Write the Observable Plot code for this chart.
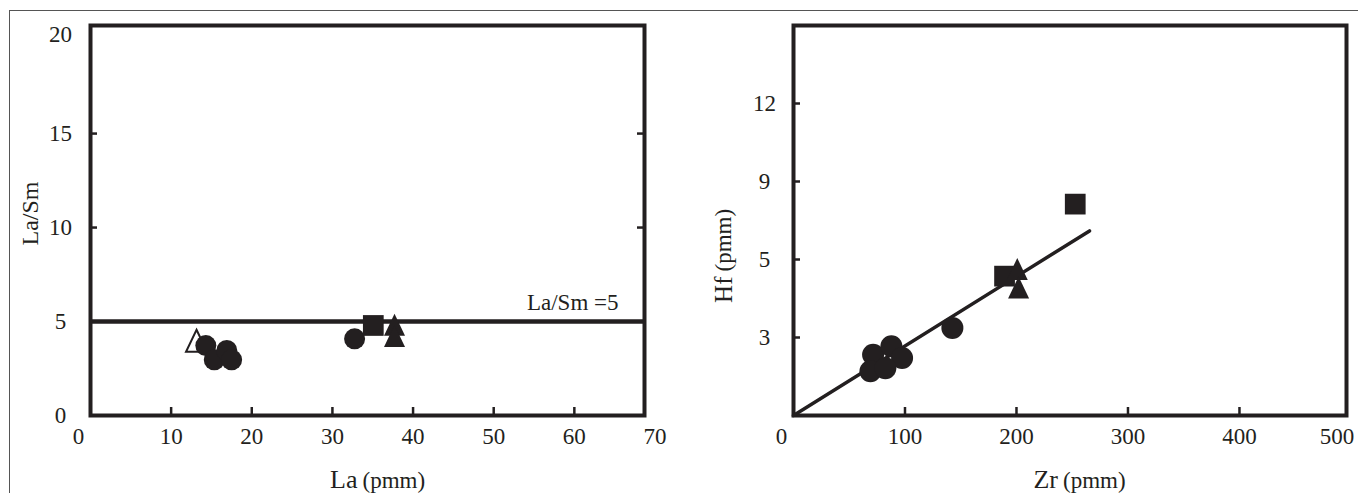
<!DOCTYPE html>
<html>
<head>
<meta charset="utf-8">
<script src="https://cdn.jsdelivr.net/npm/d3@7"></script>
<script src="https://cdn.jsdelivr.net/npm/@observablehq/plot@0.6"></script>
<style>
  html, body { margin: 0; padding: 0; background: #fff; }
  #page { position: relative; width: 1358px; height: 493px; overflow: hidden; background: #fff; }
  #border { position: absolute; left: 9px; top: 10px; right: -2px; bottom: -2px; border-top: 1px solid #555; border-left: 1px solid #555; }
  #left { position: absolute; left: 0; top: 0; }
  #right { position: absolute; left: 700px; top: 0; }
</style>
</head>
<body>
<div id="page"><div id="border"></div><div id="left"></div><div id="right"></div></div>
<script>
// ---------- tick values and labels ----------
const laTicks = [0, 10, 20, 30, 40, 50, 60, 70];
const laInnerTicks = [10, 20, 30, 40, 50, 60];
const laSmTicks = [0, 5, 10, 15, 20];
const laSmInnerTicks = [10, 15];
const laSmReference = [5];
const laSmReferenceLabel = ["La/Sm =5"];

const zrTicks = [0, 100, 200, 300, 400, 500];
const zrInnerTicks = [100, 200, 300, 400];
const hfTickValues = [3, 6, 9, 12];
const hfTickLabels = ["3", "5", "9", "12"];

// ---------- left panel: La (pmm) vs La/Sm ----------
const leftOpenTriangleLa = [13.15];
const leftOpenTriangleRatio = [3.78];
const leftCircleLa = [14.3, 15.35, 16.9, 17.5, 32.75];
const leftCircleRatio = [3.72, 2.96, 3.46, 2.96, 4.08];
const leftSquareLa = [35.07];
const leftSquareRatio = [4.79];
const leftTriangleLa = [37.7, 37.7];
const leftTriangleRatio = [4.63, 4.04];

// ---------- right panel: Zr (pmm) vs Hf (pmm) ----------
const rightCircleZr = [71.4, 87.8, 97.4, 69, 82.4, 142.5];
const rightCircleHf = [2.34, 2.66, 2.21, 1.70, 1.82, 3.37];
const rightSquareZr = [189.3, 252.7];
const rightSquareHf = [5.36, 8.13];
const rightTriangleZr = [200.7, 201.9];
const rightTriangleHf = [5.49, 4.78];
const fitLineZr = [0, 265.5];
const fitLineHf = [0, 7.1];

// ---------- helpers ----------
const pts = (xs, ys) => xs.map((x, i) => ({x, y: ys[i]}));
const ink = "#231f20";
const serif = "'Liberation Serif', 'Times New Roman', serif";
const tickFont = 23;

// a slightly tall triangle, as printed in the figure
const tallTriangle = {
  draw(ctx, size) {
    const s = Math.sqrt(size);
    const hb = 0.593 * s, h = 1.24 * s;
    ctx.moveTo(0, -2 * h / 3);
    ctx.lineTo(hb, h / 3);
    ctx.lineTo(-hb, h / 3);
    ctx.closePath();
  }
};

const H = 493, MT = 25, MB = 78;
const txt = {fontFamily: serif, fill: ink, lineAnchor: "middle"};

// ================= LEFT =================
{
  const W = 700, ML = 90, MR = 56;
  const fw = W - ML - MR, fh = H - MT - MB;
  const chart = Plot.plot({
    width: W, height: H,
    marginLeft: ML, marginRight: MR, marginTop: MT, marginBottom: MB,
    style: {background: "transparent", color: ink, fontFamily: serif},
    x: {domain: [0, 68.7], axis: null},
    y: {domain: [0, 20.75], axis: null},
    marks: [
      Plot.ruleX(laInnerTicks, {x: d => d, insetTop: fh - 8, stroke: ink, strokeWidth: 2.5}),
      Plot.ruleY(laSmInnerTicks, {y: d => d, insetRight: fw - 7, stroke: ink, strokeWidth: 2.5}),
      Plot.ruleY(laSmInnerTicks, {y: d => d, insetLeft: fw - 7, stroke: ink, strokeWidth: 2.5}),
      Plot.ruleY(laSmReference, {y: d => d, stroke: ink, strokeWidth: 4.5}),
      Plot.text(laSmReferenceLabel, {x: 68.7, y: laSmReference[0], text: d => d, textAnchor: "end", dx: -26, dy: -19, fontSize: 23, ...txt}),
      Plot.frame({stroke: ink, strokeWidth: 4}),
      // tick labels
      Plot.text(laTicks.filter(d => d !== 0), {x: d => d, frameAnchor: "bottom", dy: 21, text: d => String(d), fontSize: tickFont, ...txt}),
      Plot.text(laTicks.filter(d => d === 0), {x: d => d, frameAnchor: "bottom", dy: 21, dx: -12, text: d => String(d), fontSize: tickFont, ...txt}),
      Plot.text(laSmTicks.filter(d => d !== 20), {y: d => d, frameAnchor: "left", dx: -30, text: d => String(d), fontSize: tickFont, textAnchor: "middle", ...txt}),
      Plot.text(laSmTicks.filter(d => d === 20), {y: d => d, frameAnchor: "left", dx: -30, dy: -5, text: d => String(d), fontSize: tickFont, textAnchor: "middle", ...txt}),
      // axis titles
      Plot.text(["La"], {frameAnchor: "bottom", dy: 64, dx: -10, text: d => d, textAnchor: "end", fontSize: 26, ...txt}),
      Plot.text(["(pmm)"], {frameAnchor: "bottom", dy: 65, dx: -5, text: d => d, textAnchor: "start", fontSize: 23, ...txt}),
      Plot.text(["La/Sm"], {frameAnchor: "left", dx: -60, dy: -7, text: d => d, rotate: -90, textAnchor: "middle", fontSize: 24, ...txt}),
      // data
      Plot.dot(pts(leftOpenTriangleLa, leftOpenTriangleRatio), {x: "x", y: "y", symbol: tallTriangle, r: 10, fill: "white", stroke: ink, strokeWidth: 2}),
      Plot.dot(pts(leftCircleLa, leftCircleRatio), {x: "x", y: "y", symbol: "circle", r: 10.5, fill: ink, stroke: "none"}),
      Plot.dot(pts(leftSquareLa, leftSquareRatio), {x: "x", y: "y", symbol: "square", r: 11.7, fill: ink, stroke: "none"}),
      Plot.dot(pts(leftTriangleLa, leftTriangleRatio), {x: "x", y: "y", symbol: tallTriangle, r: 10, fill: ink, stroke: "none"})
    ]
  });
  document.getElementById("left").appendChild(chart);
}

// ================= RIGHT =================
{
  const W = 658, ML = 93, MR = 12;
  const fw = W - ML - MR, fh = H - MT - MB;
  const chart = Plot.plot({
    width: W, height: H,
    marginLeft: ML, marginRight: MR, marginTop: MT, marginBottom: MB,
    style: {background: "transparent", color: ink, fontFamily: serif},
    x: {domain: [0, 496], axis: null},
    y: {domain: [0, 15], axis: null},
    marks: [
      Plot.ruleX(zrInnerTicks, {x: d => d, insetTop: fh - 8, stroke: ink, strokeWidth: 2.5}),
      Plot.ruleY(hfTickValues, {y: d => d, insetRight: fw - 7, stroke: ink, strokeWidth: 2.5}),
      Plot.frame({stroke: ink, strokeWidth: 4}),
      Plot.line(pts(fitLineZr, fitLineHf), {x: "x", y: "y", stroke: ink, strokeWidth: 3.5}),
      // tick labels
      Plot.text(zrTicks.filter(d => d !== 0 && d !== 500), {x: d => d, frameAnchor: "bottom", dy: 21, text: d => String(d), fontSize: tickFont, ...txt}),
      Plot.text(zrTicks.filter(d => d === 0), {x: d => d, frameAnchor: "bottom", dy: 21, dx: -12, text: d => String(d), fontSize: tickFont, ...txt}),
      Plot.text(zrTicks.filter(d => d === 500), {x: d => d, frameAnchor: "bottom", dy: 21, dx: -14, text: d => String(d), fontSize: tickFont, ...txt}),
      Plot.text(hfTickValues, {y: d => d, frameAnchor: "left", dx: -29, text: (d, i) => hfTickLabels[i], fontSize: tickFont, textAnchor: "middle", ...txt}),
      // axis titles
      Plot.text(["Zr"], {frameAnchor: "bottom", dy: 64, dx: -12, text: d => d, textAnchor: "end", fontSize: 26, ...txt}),
      Plot.text(["(pmm)"], {frameAnchor: "bottom", dy: 65, dx: -7, text: d => d, textAnchor: "start", fontSize: 23, ...txt}),
      Plot.text(["Hf"], {frameAnchor: "left", dx: -70, dy: 56, text: d => d, rotate: -90, textAnchor: "end", fontSize: 25, ...txt}),
      Plot.text(["(pmm)"], {frameAnchor: "left", dx: -70, dy: 51, text: d => d, rotate: -90, textAnchor: "start", fontSize: 23, ...txt}),
      // data
      Plot.dot(pts(rightCircleZr, rightCircleHf), {x: "x", y: "y", symbol: "circle", r: 11, fill: ink, stroke: "none"}),
      Plot.dot(pts(rightSquareZr, rightSquareHf), {x: "x", y: "y", symbol: "square", r: 11.7, fill: ink, stroke: "none"}),
      Plot.dot(pts(rightTriangleZr, rightTriangleHf), {x: "x", y: "y", symbol: tallTriangle, r: 10, fill: ink, stroke: "none"})
    ]
  });
  document.getElementById("right").appendChild(chart);
}
</script>
</body>
</html>
